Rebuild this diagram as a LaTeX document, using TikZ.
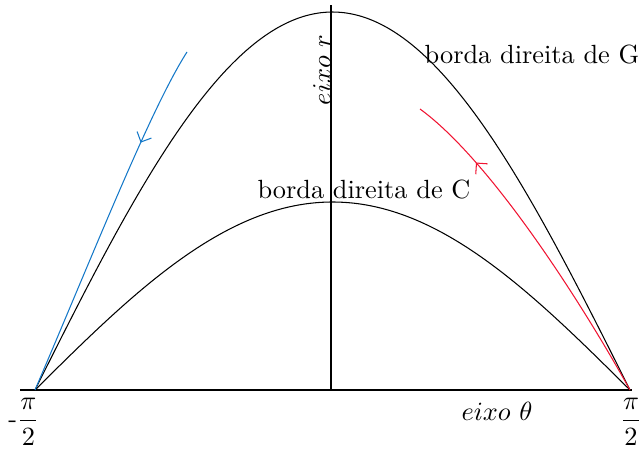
\documentclass[tikz,border=0pt]{standalone}
\usepackage{amsmath}
\usetikzlibrary{decorations.markings,arrows.meta}
\definecolor{curveblue}{RGB}{20,120,200}
\definecolor{curvered}{RGB}{240,20,50}

\begin{document}
\begin{tikzpicture}[x=0.38pt,y=-0.38pt, every node/.style={inner sep=1pt},
  arrowmark/.style 2 args={postaction={decorate},decoration={markings,mark=at position #1 with {\arrow{#2}}}}]
\useasboundingbox (0,0) rectangle (642,456);
% eixos
\coordinate (xstart) at (20,390);
\coordinate (xend) at (632,390);
\coordinate (origin) at (331,390);
\coordinate (rtop) at (331,5);
\draw (xstart) -- (xend);
\draw (origin) -- (rtop);
% bordas
\draw plot[domain=-90:90,samples=80,smooth] ({332.5+3.30556*\x},{390-378*cos(\x)});
\draw plot[domain=-90:90,samples=80,smooth] ({332.5+3.30556*\x},{390-188*cos(\x)});
% caminhos
\coordinate (left) at (35,390);
\coordinate (right) at (630,390);
\coordinate (bluetop) at (187,52);
\coordinate (redtop) at (420,109);
\draw[curveblue,arrowmark={0.75}{Straight Barb[reversed,length=3pt,width=6pt]}] (left) .. controls (95,250) and (150,110) .. (bluetop);
\draw[curvered,arrowmark={0.78}{Straight Barb[length=3pt,width=6pt]}] (right) .. controls (580,300) and (490,160) .. (redtop);
% rotulos
\node (lpi) at (24,422) {-$\dfrac{\pi}{2}$};
\node (rpi) at (631,422) {$\dfrac{\pi}{2}$};
\node (theta) at (497,411) {$eixo\ \theta$};
\node[rotate=90] (raxis) at (322,70) {$eixo\ r$};
\node (bordaC) at (364,190) {borda direita de C};
\node (bordaG) at (532,55) {borda direita de G};
\end{tikzpicture}
\end{document}
